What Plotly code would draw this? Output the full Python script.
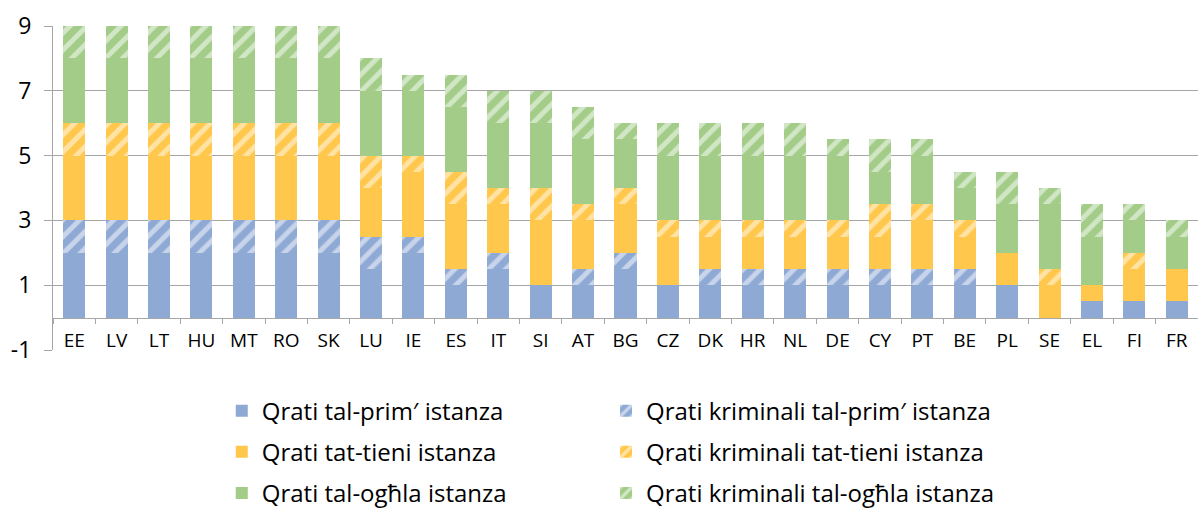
import plotly.graph_objects as go

categories = ["EE", "LV", "LT", "HU", "MT", "RO", "SK", "LU", "IE", "ES", "IT", "SI", "AT", "BG",
              "CZ", "DK", "HR", "NL", "DE", "CY", "PT", "BE", "PL", "SE", "EL", "FI", "FR"]

first_inst = [2, 2, 2, 2, 2, 2, 2, 1.5, 2, 1, 1.5, 1, 1, 1.5, 1, 1, 1, 1, 1, 1, 1, 1, 1, 0, 0.5, 0.5, 0.5]
first_crim = [1, 1, 1, 1, 1, 1, 1, 1, 0.5, 0.5, 0.5, 0, 0.5, 0.5, 0, 0.5, 0.5, 0.5, 0.5, 0.5, 0.5, 0.5, 0, 0, 0, 0, 0]
second_inst = [2, 2, 2, 2, 2, 2, 2, 1.5, 2, 2, 1.5, 2, 1.5, 1.5, 1.5, 1, 1, 1, 1, 1, 1.5, 1, 1, 1, 0.5, 1, 1]
second_crim = [1, 1, 1, 1, 1, 1, 1, 1, 0.5, 1, 0.5, 1, 0.5, 0.5, 0.5, 0.5, 0.5, 0.5, 0.5, 1, 0.5, 0.5, 0, 0.5, 0, 0.5, 0]
highest_inst = [2, 2, 2, 2, 2, 2, 2, 2, 2, 2, 2, 2, 2, 1.5, 2, 2, 2, 2, 2, 1, 1.5, 1, 1.5, 2, 1.5, 1, 1]
highest_crim = [1, 1, 1, 1, 1, 1, 1, 1, 0.5, 1, 1, 1, 1, 0.5, 1, 1, 1, 1, 0.5, 1, 0.5, 0.5, 1, 0.5, 1, 0.5, 0.5]

series_names = ["Qrati tal-prim\u2032 istanza", "Qrati kriminali tal-prim\u2032 istanza",
                "Qrati tat-tieni istanza", "Qrati kriminali tat-tieni istanza",
                "Qrati tal-og\u0127la istanza", "Qrati kriminali tal-og\u0127la istanza"]

y_ticks = [-1, 1, 3, 5, 7, 9]
y_tick_labels = ["-1", "1", "3", "5", "7", "9"]

BLUE = "#8FA9D5"
YELLOW = "#FFC74B"
GREEN = "#A2CC88"

series = [
    (series_names[0], first_inst, BLUE, False, "legend"),
    (series_names[1], first_crim, BLUE, True, "legend2"),
    (series_names[2], second_inst, YELLOW, False, "legend"),
    (series_names[3], second_crim, YELLOW, True, "legend2"),
    (series_names[4], highest_inst, GREEN, False, "legend"),
    (series_names[5], highest_crim, GREEN, True, "legend2"),
]

fig = go.Figure()
for i, (name, vals, color, hatched, leg) in enumerate(series):
    marker = dict(color=color, line=dict(width=0))
    if hatched:
        marker["pattern"] = dict(shape="/", bgcolor=color, fgcolor="white",
                                 size=12, solidity=0.42, fillmode="overlay")
    fig.add_trace(go.Bar(x=categories, y=vals, name=name, marker=marker,
                         legend=leg, legendgroup="g%d" % i))

FONT = "Open Sans"
LEG_FONT = dict(size=24, family=FONT, color="black")
fig.update_layout(
    width=1198, height=511,
    barmode="stack", bargap=0.48,
    paper_bgcolor="white", plot_bgcolor="white",
    margin=dict(l=53, r=0, t=26, b=161, autoexpand=False),
    font=dict(family=FONT, color="black"),
    showlegend=True,
    legend=dict(x=0.1474, y=-0.119, xanchor="left", yanchor="top", orientation="v",
                font=LEG_FONT, tracegroupgap=7, itemwidth=30,
                bgcolor="rgba(0,0,0,0)"),
    legend2=dict(x=0.483, y=-0.119, xanchor="left", yanchor="top", orientation="v",
                 font=LEG_FONT, tracegroupgap=7, itemwidth=30,
                 bgcolor="rgba(0,0,0,0)"),
)
fig.update_yaxes(range=[-1, 9], tickmode="array", tickvals=y_ticks, ticktext=y_tick_labels,
                 showgrid=True, gridcolor="#A6A6A6", gridwidth=1, automargin=False,
                 zeroline=False, showline=True, linecolor="#A6A6A6", linewidth=1,
                 ticks="outside", ticklen=8, tickcolor="#A6A6A6", ticklabelstandoff=8,
                 tickfont=dict(size=23, family=FONT), domain=[0, 1])
fig.update_xaxes(anchor="free", position=0.1, showline=True, linecolor="#A6A6A6", linewidth=1,
                 ticks="outside", ticklen=5, tickcolor="#A6A6A6", tickson="boundaries",
                 automargin=False, ticklabelstandoff=6,
                 showgrid=False, tickfont=dict(size=19, family=FONT), tickangle=0)

fig.write_html("out.html", config={"displayModeBar": False},
               post_script="document.body.style.margin='0';document.body.style.padding='0';")
